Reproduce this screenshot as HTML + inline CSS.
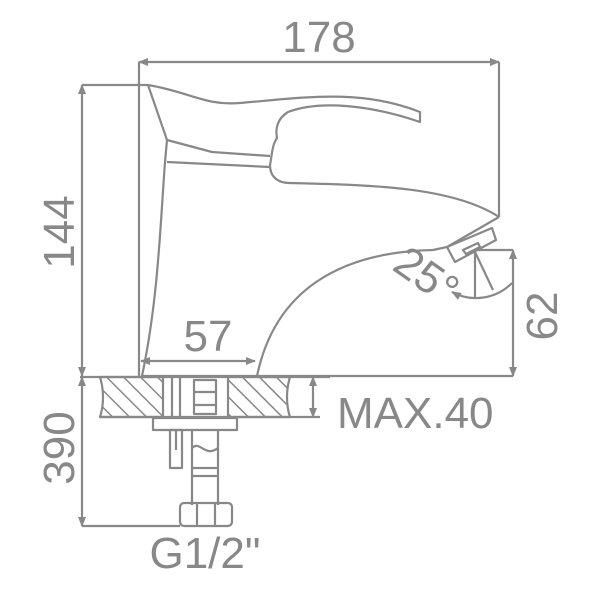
<!DOCTYPE html>
<html><head><style>body{margin:0;background:#fff}svg{display:block}</style></head><body>
<svg width="600" height="600" viewBox="0 0 600 600" xmlns="http://www.w3.org/2000/svg">
<defs>
<pattern id="h" width="12" height="12" patternUnits="userSpaceOnUse" patternTransform="rotate(-45)">
<line x1="0" y1="0" x2="0" y2="12" stroke="#888" stroke-width="3"/></pattern>
<marker id="a" markerWidth="10" markerHeight="8" refX="9" refY="4" orient="auto" markerUnits="userSpaceOnUse"><path d="M0,0 L10,4 L0,8 z" fill="#888"/></marker>
<marker id="b" markerWidth="10" markerHeight="8" refX="1" refY="4" orient="auto" markerUnits="userSpaceOnUse"><path d="M10,0 L0,4 L10,8 z" fill="#888"/></marker>
</defs>
<g fill="none" stroke="#888" stroke-width="2.2" stroke-linejoin="round">
<line x1="139" y1="62" x2="499" y2="62" marker-start="url(#b)" marker-end="url(#a)"/>
<line x1="139" y1="62" x2="139" y2="376"/>
<line x1="499" y1="62" x2="499" y2="217"/>
<line x1="82" y1="85" x2="82" y2="376" marker-start="url(#b)" marker-end="url(#a)"/>
<line x1="82" y1="85" x2="148" y2="85"/>
<line x1="141" y1="361" x2="255" y2="361" marker-start="url(#b)" marker-end="url(#a)"/>
<line x1="141" y1="376" x2="513" y2="376"/>
<line x1="513" y1="250" x2="513" y2="376" marker-start="url(#b)" marker-end="url(#a)"/>
<line x1="477" y1="250" x2="513" y2="250"/>
<path d="M148,85 C190,92 205,106 240,103 C300,98 360,88 420,112 L420,122 C370,105 320,100 288,112 C278,118 275,128 277,138 C272,145 272,155 270,165 C270,177 278,183 290,183 C360,185 450,185 499,217"/>
<path d="M148,85 L167,140 L212,152 L270,156"/>
<path d="M167,162 L270,167"/>
<path d="M167,140 L165,162 C160,230 158,300 142,376"/>
<path d="M499,217 L447,247 L433,250 C340,252 275,290 257,376"/>
<path d="M447,247 L492,228 L496,240 L455,262 Z"/>
<path d="M463,250 L478,243 L480,247 L466,254 Z"/>
<line x1="475" y1="252" x2="475" y2="298"/>
<line x1="475" y1="252" x2="493" y2="290"/>
<path d="M452,292 C470,302 495,300 512,283" marker-start="url(#b)"/>
<path d="M100,377 L163,377 L163,417 L100,417 C104,405 104,390 100,377 Z" fill="url(#h)"/>
<path d="M228,377 L290,377 C286,390 286,405 290,417 L228,417 Z" fill="url(#h)"/>
<line x1="80" y1="377" x2="330" y2="377"/>
<line x1="100" y1="417" x2="320" y2="417"/>
<line x1="172" y1="377" x2="172" y2="417"/>
<line x1="180" y1="377" x2="180" y2="417"/>
<line x1="313" y1="377" x2="313" y2="417" marker-start="url(#b)" marker-end="url(#a)"/>
<rect x="194" y="380" width="22" height="34"/>
<line x1="194" y1="392" x2="216" y2="392"/><line x1="194" y1="405" x2="216" y2="405"/>
<rect x="153" y="418" width="84" height="12"/>
<rect x="170" y="430" width="12" height="38"/>
<line x1="176" y1="430" x2="176" y2="450"/>
<path d="M192,430 L192,505 M218,430 L218,505"/>
<path d="M192,448 C200,440 205,458 218,448"/>
<line x1="192" y1="468" x2="218" y2="468"/><line x1="192" y1="476" x2="218" y2="476"/>
<rect x="180" y="503" width="52" height="23" rx="4"/>
<line x1="197" y1="503" x2="197" y2="526"/><line x1="215" y1="503" x2="215" y2="526"/>
<line x1="82" y1="377" x2="82" y2="526" marker-start="url(#b)" marker-end="url(#a)"/>
<line x1="82" y1="526" x2="180" y2="526"/>
</g>
<g fill="#888" font-family="Liberation Sans, sans-serif" font-size="44">
<text x="319" y="52" text-anchor="middle">178</text>
<text x="0" y="0" text-anchor="middle" transform="translate(74,232) rotate(-90)">144</text>
<text x="208" y="351" text-anchor="middle">57</text>
<text x="0" y="0" text-anchor="middle" transform="translate(557,316) rotate(-90)">62</text>
<text x="0" y="0" text-anchor="middle" transform="translate(418,288) rotate(35)">25°</text>
<text x="337" y="428">MAX.40</text>
<text x="0" y="0" text-anchor="middle" transform="translate(74,448) rotate(-90)">390</text>
<text x="205" y="568" text-anchor="middle">G1/2"</text>
</g>
</svg>
</body></html>
